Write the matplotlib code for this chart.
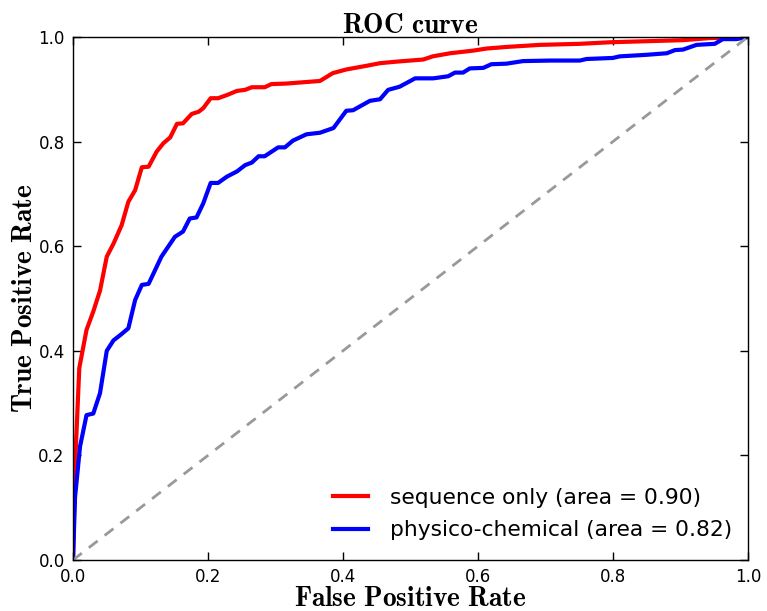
import matplotlib
matplotlib.use('Agg')
import matplotlib.pyplot as plt

plt.rcParams['mathtext.fontset'] = 'cm'

# ROC points
seq_fpr = [0.0, 0.003, 0.0093, 0.02, 0.03, 0.04, 0.05, 0.06, 0.072, 0.082, 0.092, 0.102, 0.112,
           0.124, 0.134, 0.144, 0.154, 0.163, 0.176, 0.186, 0.193, 0.204, 0.215, 0.228, 0.243,
           0.255, 0.265, 0.284, 0.294, 0.316, 0.336, 0.366, 0.385, 0.405, 0.435, 0.455, 0.48,
           0.519, 0.533, 0.559, 0.593, 0.613, 0.642, 0.692, 0.751, 0.796, 0.85, 0.904, 0.944, 1.0]
seq_tpr = [0.0, 0.18, 0.367, 0.44, 0.475, 0.515, 0.58, 0.605, 0.64, 0.685, 0.707, 0.751, 0.752,
           0.781, 0.797, 0.808, 0.834, 0.835, 0.853, 0.857, 0.864, 0.883, 0.883, 0.889, 0.897,
           0.899, 0.904, 0.904, 0.91, 0.911, 0.913, 0.916, 0.931, 0.938, 0.945, 0.95, 0.953,
           0.957, 0.963, 0.969, 0.974, 0.978, 0.981, 0.985, 0.987, 0.99, 0.992, 0.994, 0.998, 1.0]

phys_fpr = [0.0, 0.003, 0.0104, 0.02, 0.03, 0.04, 0.05, 0.06, 0.07, 0.082, 0.092, 0.102, 0.112,
            0.131, 0.151, 0.163, 0.173, 0.183, 0.193, 0.204, 0.215, 0.228, 0.243, 0.255, 0.265,
            0.275, 0.284, 0.304, 0.314, 0.326, 0.346, 0.366, 0.386, 0.405, 0.415, 0.44, 0.455,
            0.467, 0.484, 0.507, 0.534, 0.556, 0.566, 0.578, 0.588, 0.608, 0.62, 0.642, 0.667,
            0.707, 0.751, 0.761, 0.80, 0.81, 0.85, 0.88, 0.892, 0.904, 0.924, 0.951, 0.963,
            0.983, 1.0]
phys_tpr = [0.0, 0.12, 0.217, 0.277, 0.28, 0.319, 0.40, 0.42, 0.43, 0.443, 0.497, 0.526, 0.528,
            0.58, 0.618, 0.628, 0.653, 0.655, 0.682, 0.721, 0.721, 0.733, 0.743, 0.755, 0.76,
            0.772, 0.772, 0.789, 0.789, 0.802, 0.814, 0.817, 0.826, 0.859, 0.86, 0.878, 0.881,
            0.899, 0.905, 0.921, 0.921, 0.925, 0.932, 0.932, 0.94, 0.941, 0.948, 0.949, 0.954,
            0.955, 0.955, 0.958, 0.96, 0.963, 0.966, 0.969, 0.975, 0.976, 0.985, 0.987, 0.996,
            0.996, 1.0]

seq_auc = 0.90
phys_auc = 0.82

fig = plt.figure(figsize=(7.67, 6.11), dpi=100)
ax = fig.add_axes([0.0952, 0.0835, 0.8798, 0.8559])

ax.plot(seq_fpr, seq_tpr, color='red', lw=3, label='sequence only (area = %0.2f)' % seq_auc)
ax.plot(phys_fpr, phys_tpr, color='blue', lw=3, label='physico-chemical (area = %0.2f)' % phys_auc)
ax.plot([0, 1], [0, 1], color='#999999', lw=2, linestyle='--', dashes=(4, 3.2))

ax.set_xlim(0.0, 1.0)
ax.set_ylim(0.0, 1.0)
ax.tick_params(direction='in', top=True, right=True, length=6, width=1, labelsize=12, pad=6)
ax.set_xticks([0.0, 0.2, 0.4, 0.6, 0.8, 1.0])
ax.set_yticks([0.0, 0.2, 0.4, 0.6, 0.8, 1.0])
for sp in ax.spines.values():
    sp.set_linewidth(1)

ax.set_xlabel(r'$\mathbf{False\ Positive\ Rate}$', fontsize=19.7, labelpad=0)
ax.set_ylabel(r'$\mathbf{True\ Positive\ Rate}$', fontsize=19.7, labelpad=0)
ax.set_title(r'$\mathbf{ROC\ curve}$', fontsize=19.7, pad=3)

ax.legend(loc='lower right', bbox_to_anchor=(1.009, -0.004), frameon=False, fontsize=15.7,
          handlelength=1.6, handletextpad=1.0, labelspacing=0.57, borderaxespad=0.6)

fig.savefig('out.png', dpi=100)
